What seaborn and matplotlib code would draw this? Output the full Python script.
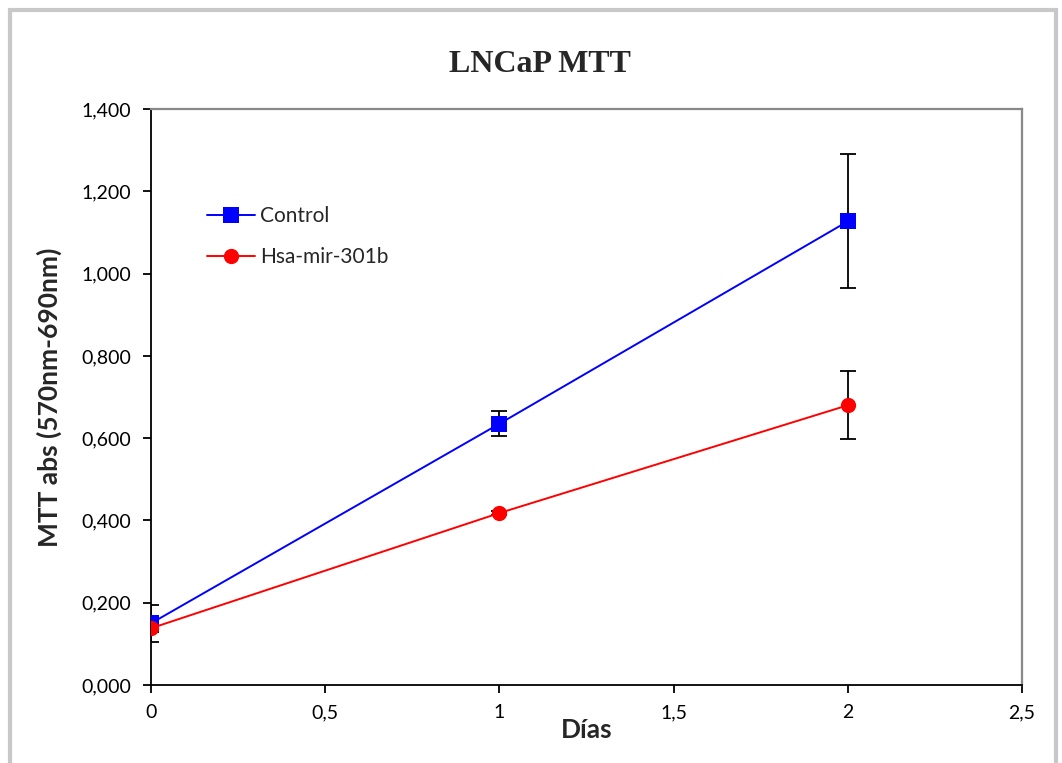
import pandas as pd
import matplotlib.pyplot as plt
import seaborn as sns
from matplotlib.ticker import FuncFormatter, MultipleLocator
from matplotlib.patches import Rectangle

# datos
dias = [0, 1, 2]
control = [0.150, 0.635, 1.127]
control_err = [0.045, 0.030, 0.163]
mir301b = [0.138, 0.418, 0.680]
mir301b_err = [0.010, 0.005, 0.083]
grupos = ['Control', 'Hsa-mir-301b']

df = pd.DataFrame({
    'Días': dias * 2,
    'MTT': control + mir301b,
    'err': control_err + mir301b_err,
    'Grupo': [grupos[0]] * 3 + [grupos[1]] * 3,
})

sns.set_theme(style='white')
plt.rcParams['font.family'] = ['Lato', 'DejaVu Sans']

fig = plt.figure(figsize=(10.62, 7.63), dpi=100)
ax = fig.add_axes([0.1422, 0.1022, 0.8201, 0.7549])

# barras de error (negras, detrás de los marcadores)
for g in grupos:
    d = df[df['Grupo'] == g]
    ax.errorbar(d['Días'], d['MTT'], yerr=d['err'], fmt='none', ecolor='black',
                elinewidth=1.3, capsize=6, capthick=1.3, zorder=2)

sns.lineplot(data=df, x='Días', y='MTT', hue='Grupo', style='Grupo',
             palette={'Control': '#0000ff', 'Hsa-mir-301b': '#ff0000'},
             markers={'Control': 's', 'Hsa-mir-301b': 'o'}, dashes=False,
             markersize=11, markeredgewidth=0, linewidth=1.4, ax=ax, zorder=3)

ax.set_xlim(0, 2.5)
ax.set_ylim(0, 1.4)
ax.xaxis.set_major_locator(MultipleLocator(0.5))
ax.yaxis.set_major_locator(MultipleLocator(0.2))
ax.xaxis.set_major_formatter(FuncFormatter(lambda v, p: f'{v:g}'.replace('.', ',')))
ax.yaxis.set_major_formatter(FuncFormatter(lambda v, p: f'{v:.3f}'.replace('.', ',')))
ax.tick_params(axis='both', direction='out', length=6, width=1.3, labelsize=14,
               colors='black', left=True, bottom=True, pad=8)

for s in ['left', 'bottom']:
    ax.spines[s].set_color('black')
    ax.spines[s].set_linewidth(1.3)
for s in ['top', 'right']:
    ax.spines[s].set_color('#888888')
    ax.spines[s].set_linewidth(1.6)

ax.set_xlabel('Días', fontsize=19, fontweight='bold')
ax.set_ylabel('MTT abs (570nm-690nm)', fontsize=19, fontweight='bold')
ax.xaxis.set_label_coords(0.5, -0.058)
ax.yaxis.set_label_coords(-0.102, 0.5)

fig.text(0.508, 0.916, 'LNCaP MTT', ha='center', va='center', fontsize=23,
         fontweight='bold', family=['Liberation Serif', 'DejaVu Serif'])

ax.legend(title=None, loc='upper left', bbox_to_anchor=(0.043, 0.864), frameon=False,
          fontsize=15, handlelength=2.3, handletextpad=0.25, labelspacing=1.0)

# marco exterior gris
fig.patches.append(Rectangle((0.009, -0.02), 0.985, 1.007, transform=fig.transFigure,
                             fill=False, edgecolor='#c8c8c8', linewidth=3))

fig.savefig('out.png', dpi=100)
